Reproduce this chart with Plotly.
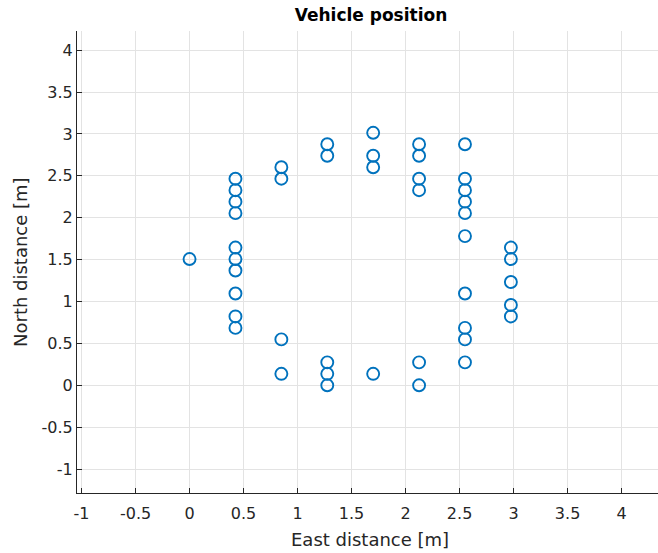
import plotly.graph_objects as go

# Measured vehicle positions, grouped by east coordinate [m]
east_columns = [0.0, 0.425, 0.85, 1.275, 1.7, 2.125, 2.55, 2.975]
north_by_column = [
    [1.507],
    [2.466, 2.329, 2.192, 2.055, 1.644, 1.507, 1.37, 1.096, 0.822, 0.685],
    [2.603, 2.466, 0.548, 0.137],
    [2.877, 2.74, 0.274, 0.137, 0.0],
    [3.014, 2.74, 2.603, 0.137],
    [2.877, 2.74, 2.466, 2.329, 0.274, 0.0],
    [2.877, 2.466, 2.329, 2.192, 2.055, 1.781, 1.096, 0.685, 0.548, 0.274],
    [1.644, 1.507, 1.233, 0.959, 0.822],
]

tick_values = [-1, -0.5, 0, 0.5, 1, 1.5, 2, 2.5, 3, 3.5, 4]
tick_labels = ["-1", "-0.5", "0", "0.5", "1", "1.5", "2", "2.5", "3", "3.5", "4"]

east = []
north = []
for e, col in zip(east_columns, north_by_column):
    for n in col:
        east.append(e)
        north.append(n)

W, H = 658, 553
L, R, T, B = 77, 0, 31, 60
pw, ph = W - L - R, H - T - B

axis_color = "#262626"
grid_color = "#e3e3e3"
font_family = "DejaVu Sans"

fig = go.Figure()
fig.add_trace(go.Scatter(
    x=east, y=north, mode="markers",
    marker=dict(symbol="circle-open", size=12, color="#0072BD",
                line=dict(width=1.9, color="#0072BD")),
    showlegend=False,
))

common_axis = dict(
    tickvals=tick_values, ticktext=tick_labels,
    showgrid=True, gridcolor=grid_color, gridwidth=1,
    zeroline=False, showline=True, linecolor=axis_color, linewidth=1,
    ticks="inside", ticklen=5, tickcolor=axis_color, tickwidth=1,
    tickfont=dict(family=font_family, size=16, color=axis_color),
    mirror=False,
)

fig.update_layout(
    width=W, height=H,
    margin=dict(l=L, r=R, t=T, b=B, pad=0),
    paper_bgcolor="white", plot_bgcolor="white",
    xaxis=dict(range=[-1.042, 4.337], ticklabelstandoff=6, **common_axis),
    yaxis=dict(range=[-1.2855, 4.229], **common_axis),
    title=dict(text="<b>Vehicle position</b>", x=371 / W, xref="container",
               xanchor="center", y=1 - 15.5 / H, yanchor="middle",
               font=dict(family=font_family, size=17, color="black")),
)

fig.add_annotation(
    text="East distance [m]", xref="paper", yref="paper",
    x=(370 - L) / pw, y=(H - B - 539) / ph, xanchor="center", yanchor="middle",
    showarrow=False, font=dict(family=font_family, size=18, color=axis_color),
)
fig.add_annotation(
    text="North distance [m]", xref="paper", yref="paper", textangle=-90,
    x=(20 - L) / pw, y=(H - B - 262) / ph, xanchor="center", yanchor="middle",
    showarrow=False, font=dict(family=font_family, size=18, color=axis_color),
)

fig.write_html("out.html")
